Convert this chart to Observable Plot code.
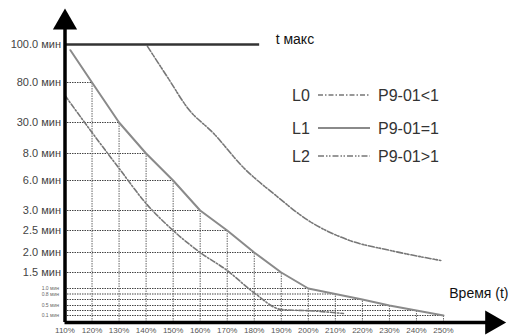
<!DOCTYPE html>
<html><head><meta charset="utf-8">
<script src="https://cdn.jsdelivr.net/npm/d3@7"></script>
<script src="https://cdn.jsdelivr.net/npm/@observablehq/plot@0.6"></script>
<style>
html,body{margin:0;padding:0;background:#fff;}
#chart svg{display:block;}
</style></head>
<body><div id="chart"></div>
<script>
// ---- data ----
const loadPct = [110,120,130,140,150,160,170,180,190,200,210,220,230,240,250];
const xTickLabels = ["110%","120%","130%","140%","150%","160%","170%","180%","190%","200%","210%","220%","230%","240%","250%"];
const yTickValues = [100,80,30,8,6,3,2.5,2,1.5,1,0.8,0.5,0.1];
const yTickLabels = ["100.0 мин","80.0 мин","30.0 мин","8.0 мин","6.0 мин","3.0 мин","2.5 мин","2.0 мин","1.5 мин","1.0 мин","0.8 мин","0.5 мин","0.1 мин"];
const l1Pct  = [112,120,130,140,150,160,170,180,190,200,210,220,230,240,250];
const l1Time = [97,80,30,8,6,3,2.5,2,1.5,1,0.8,0.65,0.5,0.3,0.1];
const l0Pct  = [110,120,130,140,150,160,170,180,190,202,213];
const l0Time = [63.75,22.9,6.9,3.7,2.5,2.0,1.55,0.84,0.34,0.28,0.18];
const l2Pct  = [140.5,148,155.5,165,176,188,200,215.5,230,249];
const l2Time = [99,82.6,47.5,22.2,6.96,4.5,2.75,2.27,2.05,1.8];
const tMax = 100, tMaxEnd = 182;
const legendKeys = ["L0","L1","L2"];
const legendLabels = ["P9-01<1","P9-01=1","P9-01>1"];
const axisLabelX = "Время (t)";
const tMaxLabel = "t макс";

// ---- build tables ----
const l0 = l0Pct.map((x,i)=>({x, t:l0Time[i]}));
const l1 = l1Pct.map((x,i)=>({x, t:l1Time[i]}));
const l2 = l2Pct.map((x,i)=>({x, t:l2Time[i]}));
const steps = l1.slice(1);
const yTicks = yTickValues.map((v,i)=>({v, label:yTickLabels[i]}));
const yBig = yTicks.filter(d=>d.v>=1.5), ySmall = yTicks.filter(d=>d.v<1.5);
const xTicks = loadPct.map((v,i)=>({v, label:xTickLabels[i]}));
const xMin = loadPct[0], yTop = 125, xEnd = 268;

// the printed time axis is not uniform: piecewise-linear warp of the time values
const timeWarp = d3.scaleLinear(
  [0, 0.1, 0.3, 0.5, 0.65, 0.8, 1, 1.5, 2, 2.5, 3, 6, 8, 30, 80, 100, 125],
  [0, 7, 12, 17, 23, 28.5, 34, 50, 70, 92, 112, 142, 169, 200, 240, 278, 300]);

const font = "'Liberation Sans', Arial, sans-serif";
const dashL0 = "5,2,1.5,2", dashL2 = "6,2,1.5,1.5,1.5,2";

function legend() {
  const g = d3.create("svg:g").attr("font-family", font).attr("text-anchor", "start");
  const rowsY = [95, 128, 156];
  const dashes = [dashL0, null, dashL2];
  legendKeys.forEach((k,i)=>{
    const y = rowsY[i];
    g.append("text").attr("x",292).attr("y",y).attr("dy","0.36em").attr("font-size",16).attr("fill","#333").text(k);
    const ln = g.append("line").attr("x1",318).attr("x2",370).attr("y1",y).attr("y2",y)
      .attr("stroke", i===1 ? "#8a8a8a" : "#777").attr("stroke-width", i===1 ? 2 : 1.5);
    if (dashes[i]) ln.attr("stroke-dasharray", dashes[i]);
    g.append("text").attr("x",378).attr("y",y).attr("dy","0.36em").attr("font-size",16).attr("fill","#333").text(legendLabels[i]);
  });
  return g.node();
}

const chart = Plot.plot({
  width: 514, height: 335,
  marginTop: 0, marginRight: 0, marginBottom: 0, marginLeft: 0,
  style: {fontFamily: font, background: "#fff", overflow: "visible"},
  x: {domain: [110, 250], range: [64.5, 443], axis: null},
  y: {transform: timeWarp, domain: [0, 300], range: [322, 22], axis: null},
  marks: [
    // staircase grid under L1
    Plot.ruleY(steps, {y: "t", x1: xMin, x2: "x", stroke: "#444", strokeWidth: 1, strokeDasharray: "1.5,1"}),
    Plot.ruleX(steps, {x: "x", y1: 0, y2: "t", stroke: "#666", strokeWidth: 1, strokeDasharray: "1.5,1"}),
    // curves
    Plot.line(l1, {x: "x", y: "t", stroke: "#8a8a8a", strokeWidth: 2}),
    Plot.line(l0, {x: "x", y: "t", stroke: "#777", strokeWidth: 1.6, strokeDasharray: dashL0, curve: "monotone-x"}),
    Plot.line(l2, {x: "x", y: "t", stroke: "#777", strokeWidth: 1.6, strokeDasharray: dashL2, curve: "monotone-x"}),
    // t max
    Plot.ruleY([tMax], {x1: xMin, x2: tMaxEnd, stroke: "#333", strokeWidth: 2.5}),
    Plot.text([tMaxLabel], {x: tMaxEnd, y: tMax, text: d=>d, textAnchor: "start", dx: 16, dy: -5, fontSize: 14, fill: "#111"}),
    // axes
    Plot.ruleX([xMin], {y1: 0, y2: yTop, stroke: "#000", strokeWidth: 3.5}),
    Plot.ruleY([0], {x1: xMin, x2: xEnd, stroke: "#000", strokeWidth: 3.5}),
    Plot.dot([0], {x: xMin, y: yTop, symbol: "triangle", r: 9, fill: "#000", stroke: null}),
    Plot.dot([0], {x: xEnd, y: 0, symbol: "triangle", r: 9, fill: "#000", stroke: null, rotate: 90}),
    // tick labels
    Plot.text(yBig, {x: xMin, y: "v", text: "label", textAnchor: "end", dx: -4, fontSize: 11, fill: "#444"}),
    Plot.text(ySmall, {x: xMin, y: "v", text: "label", textAnchor: "end", dx: -6, fontSize: 5, fill: "#666"}),
    Plot.text(xTicks, {x: "v", y: 0, text: "label", dy: 8, fontSize: 8, fill: "#555"}),
    Plot.text([axisLabelX], {frameAnchor: "bottom-right", text: d=>d, textAnchor: "end", dx: -6, dy: -38, fontSize: 14, fill: "#111"}),
    legend
  ]
});
document.getElementById("chart").appendChild(chart);
</script>
</body></html>
